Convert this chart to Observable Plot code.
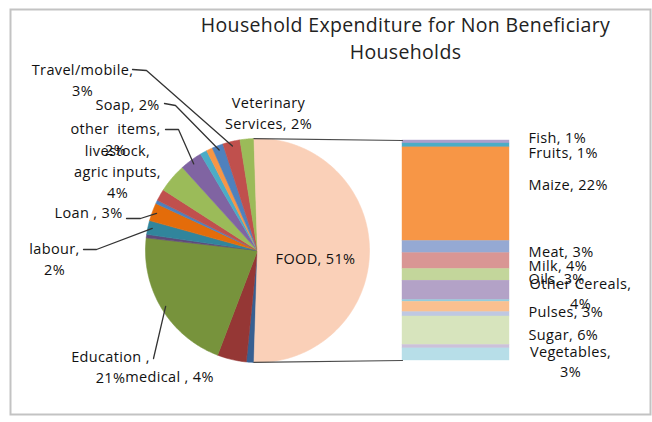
<!DOCTYPE html>
<html><head><meta charset="utf-8">
<script src="https://cdn.jsdelivr.net/npm/d3@7"></script>
<script src="https://cdn.jsdelivr.net/npm/@observablehq/plot@0.6"></script>
<style>
body{margin:0;background:#fff;}
#chart{width:652px;height:422px;}
#chart svg text{letter-spacing:0.35px;}
</style>
</head><body><div id="chart"></div>
<script>
// ---- Pie part (clockwise from 6 o'clock), FOOD last ----
const pieCategories = ["misc 1", "medical", "Education", "misc 2", "labour", "Loan", "misc 3", "misc 4",
  "livestock, agric inputs", "other items", "misc 5", "misc 6", "Soap", "Travel/mobile", "Veterinary Services", "FOOD"];
const pieValues = [1.1, 4.2, 21, 0.5, 2, 2.6, 0.5, 1.7, 4.2, 3.2, 1.0, 0.9, 1.6, 2.5, 2.0, 51];
const pieLabels = ["", "medical , 4%", "Education ,\n21%", "", "labour,\n2%", "Loan , 3%", "", "",
  "livestock,\nagric inputs,\n4%", "other  items,\n2%", "", "", "Soap, 2%", "Travel/mobile,\n3%", "Veterinary\nServices, 2%", "FOOD, 51%"];
const pieColors = ["#376092", "#953735", "#77933c", "#5f497a", "#31859c", "#e46c0a", "#4f81bd", "#c0504d",
  "#9bbb59", "#8064a2", "#4bacc6", "#f79646", "#4f81bd", "#c0504d", "#9bbb59", "#fad0b8"];

// ---- Bar part: breakdown of FOOD (top to bottom) ----
const foodCategories = ["Fish", "Fruits", "Maize", "Meat", "Milk", "Oils", "Other Cereals", "misc a", "Pulses", "misc b", "Sugar", "misc c", "Vegetables"];
const foodValues = [0.7, 0.9, 21.7, 2.8, 3.7, 2.7, 4.5, 0.4, 2.4, 1.0, 6.6, 0.8, 2.8];
const foodLabels = ["Fish, 1%", "Fruits, 1%", "Maize, 22%", "Meat, 3%", "Milk, 4%", "Oils, 3%", "Other Cereals,\n4%", "", "Pulses, 3%", "", "Sugar, 6%", "", "Vegetables,\n3%"];
const foodColors = ["#ab9fcc", "#4bacc6", "#f79646", "#95a9d3", "#d99694", "#c3d69b", "#b3a2c7", "#93cddd", "#fac090", "#bfc8e2", "#d7e4bd", "#ccc1da", "#b7dee8"];

const title = "Household Expenditure for Non Beneficiary\nHouseholds";

// ---- layout (pixels) ----
const W = 652, H = 422;
const cx = 257, cy = 250, R = 112;
const ux = px => (px - cx) / R, uy = py => (cy - py) / R;
const barX0 = ux(402), barX1 = ux(509), barTop = uy(140), barBottom = uy(360);

// label placement for pie labels (pixel centre of text block, leader elbow points)
const pieLabelLayout = {
  "Travel/mobile": {at: [82, 78], via: [[132, 69], [146, 70]]},
  "Soap": {at: [127, 103], via: [[164, 103], [175, 105]]},
  "Veterinary Services": {at: [268, 111]},
  "other items": {at: [115, 137], via: [[165, 129], [178, 129]]},
  "livestock, agric inputs": {at: [117, 170]},
  "Loan": {at: [88, 211], via: [[126, 218], [140, 218]]},
  "labour": {at: [54, 257], via: [[83, 249], [96, 249]]},
  "Education": {at: [110, 365], via: [[153, 358]]},
  "medical": {at: [169, 375]},
  "FOOD": {at: [315, 257]}
};

// ---- geometry from values ----
const pieTotal = d3.sum(pieValues);
const foodShare = pieValues[pieValues.length - 1] / pieTotal;
const start = Math.PI + (foodShare * 2 * Math.PI - Math.PI) / 2;
const arcs = d3.pie().sort(null).startAngle(start).endAngle(start + 2 * Math.PI)(pieValues);
const slices = arcs.flatMap((a, i) => {
  const n = Math.max(2, Math.ceil((a.endAngle - a.startAngle) / 0.01));
  const pts = [{slice: i, x: 0, y: 0, color: pieColors[i]}];
  for (let k = 0; k <= n; k++) {
    const t = a.startAngle + (a.endAngle - a.startAngle) * k / n;
    pts.push({slice: i, x: Math.sin(t), y: Math.cos(t), color: pieColors[i]});
  }
  pts.push({slice: i, x: 0, y: 0, color: pieColors[i]});
  return pts;
});

const pieText = [], leaders = [];
arcs.forEach((a, i) => {
  const L = pieLabelLayout[pieCategories[i]];
  if (!L || !pieLabels[i]) return;
  pieText.push({text: pieLabels[i], x: ux(L.at[0]), y: uy(L.at[1])});
  if (L.via) {
    const mid = (a.startAngle + a.endAngle) / 2;
    const pts = L.via.map(p => ({x: ux(p[0]), y: uy(p[1])}));
    pts.push({x: 0.96 * Math.sin(mid), y: 0.96 * Math.cos(mid)});
    pts.forEach(p => leaders.push({id: i, ...p}));
  }
});

const foodTotal = d3.sum(foodValues);
let cum = 0;
const segs = foodValues.map((v, i) => {
  const s = {name: foodCategories[i], label: foodLabels[i], color: foodColors[i], c0: cum, c1: cum + v};
  cum += v; return s;
});
const yOf = c => barTop - (barTop - barBottom) * c / foodTotal;
const segMid = d => yOf((d.c0 + d.c1) / 2);

const food = arcs[arcs.length - 1];
const connectors = [
  {id: 0, x: Math.sin(food.startAngle), y: Math.cos(food.startAngle)}, {id: 0, x: barX0, y: barTop},
  {id: 1, x: Math.sin(food.endAngle), y: Math.cos(food.endAngle)}, {id: 1, x: barX0, y: barBottom}
];

const font = "Open Sans";
const fs = 14.5;
const lab = (names, opts) => Plot.text(segs.filter(d => names.includes(d.name)), {
  x: () => barX1, y: segMid, text: "label", fontFamily: font, fontSize: fs, fill: "#111",
  textAnchor: "start", dx: 19, lineHeight: 1.4, ...opts
});

const chart = Plot.plot({
  width: W, height: H, margin: 0,
  x: {domain: [ux(0), ux(W)], axis: null},
  y: {domain: [uy(H), uy(0)], axis: null},
  color: {type: "identity"},
  style: {background: "#fff", fontFamily: font},
  marks: [
    Plot.frame({stroke: "#c3c3c3", strokeWidth: 2, insetLeft: 10, insetTop: 9, insetRight: 2, insetBottom: 8}),
    Plot.text([title], {frameAnchor: "top", text: d => d, dx: 79, dy: 36, lineAnchor: "middle",
      fontFamily: font, fontSize: 19.5, fill: "#222", lineHeight: 1.42}),
    Plot.line(slices, {x: "x", y: "y", z: "slice", fill: "color", stroke: "color", strokeWidth: 0.6, curve: "linear"}),
    Plot.rect(segs, {x1: () => barX0, x2: () => barX1, y1: d => yOf(d.c0), y2: d => yOf(d.c1), fill: "color", stroke: "color", strokeWidth: 0.4}),
    Plot.line(connectors, {x: "x", y: "y", z: "id", stroke: "#4a4a4a", strokeWidth: 1.2}),
    Plot.line(leaders, {x: "x", y: "y", z: "id", stroke: "#333", strokeWidth: 1.3}),
    Plot.text(pieText, {x: "x", y: "y", text: "text", fontFamily: font, fontSize: fs, fill: "#111",
      textAnchor: "middle", lineAnchor: "middle", lineHeight: 1.45}),
    lab(["Fish"], {dy: -6}),
    lab(["Fruits"], {dy: 6}),
    lab(["Maize"], {dy: -11}),
    lab(["Meat", "Milk", "Oils", "Pulses", "Sugar"], {dy: 3}),
    lab(["Other Cereals"], {textAnchor: "middle", dx: 71, dy: 2, lineAnchor: "middle"}),
    lab(["Vegetables"], {textAnchor: "middle", dx: 61, dy: 6, lineAnchor: "middle"})
  ]
});
document.getElementById("chart").appendChild(chart);
</script>
</body></html>
